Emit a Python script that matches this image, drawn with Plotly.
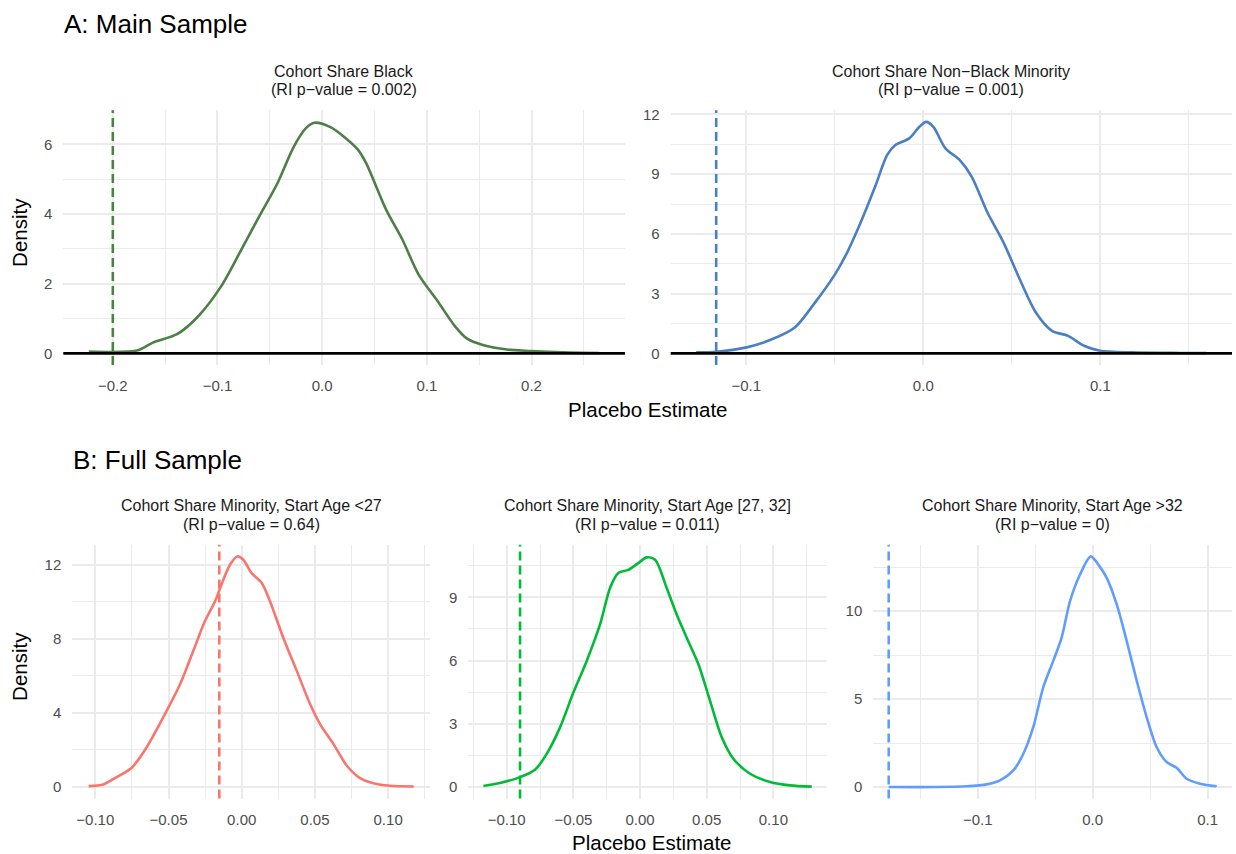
import plotly.graph_objects as go

# ---------------- data ----------------
# Panel A1: Cohort Share Black
a1_x = [-0.2229, -0.177, -0.1617, -0.1387, -0.1195, -0.0964, -0.0772, -0.0618, -0.0426, -0.0272,
        -0.0157, -0.0072, 0.0074, 0.0228, 0.0343, 0.042, 0.0612, 0.0766, 0.092, 0.1112,
        0.1266, 0.1381, 0.1535, 0.1766, 0.1996, 0.2304, 0.2649]
a1_y = [0.05, 0.08, 0.31, 0.55, 1.03, 1.93, 2.98, 3.84, 4.89, 5.93,
        6.46, 6.62, 6.50, 6.17, 5.84, 5.46, 4.12, 3.27, 2.27, 1.46,
        0.79, 0.43, 0.24, 0.11, 0.07, 0.03, 0.01]
a1_obs = -0.2
a1_title = ["Cohort Share Black", "(RI p\u2212value = 0.002)"]

# Panel A2: Cohort Share Non-Black Minority
a2_x = [-0.1283, -0.1168, -0.0998, -0.0862, -0.0726, -0.0612, -0.0499, -0.0431, -0.0363, -0.0272,
        -0.0204, -0.0158, -0.0079, -0.0022, 0.0016, 0.0057, 0.0125, 0.0205, 0.0273, 0.0364,
        0.0454, 0.0545, 0.0636, 0.0727, 0.0818, 0.0908, 0.0999, 0.118, 0.1453, 0.16]
a2_y = [0.05, 0.08, 0.30, 0.68, 1.30, 2.55, 3.97, 5.05, 6.38, 8.38,
        9.97, 10.47, 10.80, 11.38, 11.63, 11.38, 10.30, 9.72, 8.88, 7.05,
        5.55, 3.72, 2.05, 1.13, 0.88, 0.38, 0.13, 0.05, 0.02, 0.01]
a2_obs = -0.117
a2_title = ["Cohort Share Non\u2212Black Minority", "(RI p\u2212value = 0.001)"]

# Panel B1: Start Age <27
b1_x = [-0.1046, -0.0945, -0.0854, -0.0751, -0.0649, -0.0512, -0.0421, -0.0331, -0.0251, -0.0182,
        -0.013, -0.008, -0.003, 0.0011, 0.0068, 0.0137, 0.0193, 0.0284, 0.0376, 0.0467,
        0.0535, 0.0626, 0.0717, 0.0808, 0.0899, 0.1013, 0.1175]
b1_y = [0.05, 0.14, 0.54, 1.04, 2.15, 4.12, 5.55, 7.34, 8.96, 10.03,
        11.1, 12.0, 12.45, 12.27, 11.55, 11.02, 10.03, 8.06, 6.27, 4.48,
        3.40, 2.33, 1.16, 0.48, 0.21, 0.07, 0.03]
b1_obs = -0.0153
b1_title = ["Cohort Share Minority, Start Age <27", "(RI p\u2212value = 0.64)"]

# Panel B2: Start Age [27, 32]
b2_x = [-0.1175, -0.105, -0.09, -0.0788, -0.07, -0.06, -0.05, -0.04, -0.03, -0.0225,
        -0.0163, -0.0088, -0.0013, 0.005, 0.0113, 0.02, 0.0275, 0.035, 0.0438, 0.0525,
        0.0613, 0.07, 0.0825, 0.0975, 0.1125, 0.1288]
b2_y = [0.05, 0.19, 0.47, 0.82, 1.57, 2.83, 4.48, 5.98, 7.71, 9.44,
        10.15, 10.30, 10.62, 10.89, 10.78, 9.44, 8.18, 7.08, 5.82, 4.09,
        2.36, 1.34, 0.63, 0.24, 0.08, 0.02]
b2_obs = -0.090
b2_title = ["Cohort Share Minority, Start Age [27, 32]", "(RI p\u2212value = 0.011)"]

# Panel B3: Start Age >32
b3_x = [-0.1774, -0.1357, -0.1096, -0.0922, -0.0806, -0.069, -0.0603, -0.0517, -0.043, -0.0343,
        -0.027, -0.0197, -0.011, -0.0017, 0.0049, 0.0122, 0.0209, 0.0296, 0.0383, 0.047,
        0.0557, 0.0643, 0.073, 0.0817, 0.0933, 0.1078]
b3_y = [0.0, 0.0, 0.04, 0.15, 0.38, 0.94, 1.89, 3.40, 5.66, 7.17,
        8.49, 10.57, 12.08, 13.11, 12.64, 11.89, 10.38, 8.30, 6.04, 3.96,
        2.26, 1.42, 1.09, 0.47, 0.19, 0.04]
b3_obs = -0.1774
b3_title = ["Cohort Share Minority, Start Age >32", "(RI p\u2212value = 0)"]

# tick values / labels
ta_x1 = [-0.2, -0.1, 0.0, 0.1, 0.2]
ta_x1_lab = ["\u22120.2", "\u22120.1", "0.0", "0.1", "0.2"]
ta_y1 = [0, 2, 4, 6]
ta_x2 = [-0.1, 0.0, 0.1]
ta_x2_lab = ["\u22120.1", "0.0", "0.1"]
ta_y2 = [0, 3, 6, 9, 12]
tb_x12 = [-0.10, -0.05, 0.0, 0.05, 0.10]
tb_x12_lab = ["\u22120.10", "\u22120.05", "0.00", "0.05", "0.10"]
tb_y1 = [0, 4, 8, 12]
tb_y2 = [0, 3, 6, 9]
tb_x3 = [-0.1, 0.0, 0.1]
tb_x3_lab = ["\u22120.1", "0.0", "0.1"]
tb_y3 = [0, 5, 10]

# ---------------- layout ----------------
W, H = 1236, 854
FONT = "Liberation Sans"
GRID = "#EBEBEB"


def px_x(p):
    return p / W


def px_y(p):
    return 1 - p / H


panels = [
    dict(x=a1_x, y=a1_y, obs=a1_obs, color="#4E7F47", xd=(63.3, 625), yd=(106.7, 362.7),
         xr=(-0.2473, 0.2893), yr=(-0.333, 6.98), xt=ta_x1, xl=ta_x1_lab, yt=ta_y1,
         mdx=0.05, mdy=1, title=a1_title, hline=True),
    dict(x=a2_x, y=a2_y, obs=a2_obs, color="#4A7FC1", xd=(670.7, 1232), yd=(106.7, 362.7),
         xr=(-0.1427, 0.1744), yr=(-0.585, 12.215), xt=ta_x2, xl=ta_x2_lab, yt=ta_y2,
         mdx=0.05, mdy=1.5, title=a2_title, hline=True),
    dict(x=b1_x, y=b1_y, obs=b1_obs, color="#F8766D", xd=(72.3, 430), yd=(543.3, 798.3),
         xr=(-0.1157, 0.1286), yr=(-0.623, 13.08), xt=tb_x12, xl=tb_x12_lab, yt=tb_y1,
         mdx=0.025, mdy=2, title=b1_title, hline=False),
    dict(x=b2_x, y=b2_y, obs=b2_obs, color="#00BA38", xd=(468.3, 826.7), yd=(543.3, 798.3),
         xr=(-0.1288, 0.140), yr=(-0.547, 11.49), xt=tb_x12, xl=tb_x12_lab, yt=tb_y2,
         mdx=0.025, mdy=1.5, title=b2_title, hline=False),
    dict(x=b3_x, y=b3_y, obs=b3_obs, color="#619CFF", xd=(873.3, 1231.7), yd=(543.3, 798.3),
         xr=(-0.1908, 0.1209), yr=(-0.656, 13.77), xt=tb_x3, xl=tb_x3_lab, yt=tb_y3,
         mdx=0.05, mdy=2.5, title=b3_title, hline=False),
]

fig = go.Figure()
shapes = []
annotations = []

for i, p in enumerate(panels, start=1):
    sx = "" if i == 1 else str(i)
    xa, ya = "x" + sx, "y" + sx
    fig.add_trace(go.Scatter(x=p["x"], y=p["y"], mode="lines", xaxis=xa, yaxis=ya,
                             line=dict(color=p["color"], width=2.6, shape="spline", smoothing=0.8),
                             hoverinfo="skip", showlegend=False))
    axis_common = dict(showline=False, zeroline=False, ticks="", showgrid=True,
                       gridcolor=GRID, gridwidth=1.9,
                       tickfont=dict(family=FONT, size=15, color="#4D4D4D"))
    fig.layout["xaxis" + sx] = dict(
        axis_common, domain=[px_x(p["xd"][0]), px_x(p["xd"][1])], anchor=ya,
        range=list(p["xr"]), tickmode="array", tickvals=p["xt"], ticktext=p["xl"],
        ticklabelstandoff=10,
        minor=dict(dtick=p["mdx"], tick0=0, showgrid=True, gridcolor=GRID, gridwidth=1.0))
    fig.layout["yaxis" + sx] = dict(
        axis_common, domain=[px_y(p["yd"][1]), px_y(p["yd"][0])], anchor=xa,
        range=list(p["yr"]), tickmode="array", tickvals=p["yt"],
        ticktext=[str(v) for v in p["yt"]], ticklabelstandoff=10,
        minor=dict(dtick=p["mdy"], tick0=0, showgrid=True, gridcolor=GRID, gridwidth=1.0))
    shapes.append(dict(type="line", xref=xa, yref=ya + " domain", x0=p["obs"], x1=p["obs"],
                       y0=0, y1=1, layer="above",
                       line=dict(color=p["color"], width=2.6, dash="9px,5px")))
    if p["hline"]:
        shapes.append(dict(type="line", xref=xa + " domain", yref=ya, x0=0, x1=1, y0=0, y1=0,
                           layer="above", line=dict(color="black", width=2.8)))
    cx = px_x((p["xd"][0] + p["xd"][1]) / 2)
    top = p["yd"][0]
    for k, line in enumerate(p["title"]):
        annotations.append(dict(text=line, x=cx, y=px_y(top - 39 + 18.5 * k), xref="paper",
                                yref="paper", xanchor="center", yanchor="middle", showarrow=False,
                                font=dict(family=FONT, size=16, color="#1A1A1A")))

annotations.append(dict(text="A: Main Sample", x=px_x(62), y=px_y(20), xref="paper", yref="paper",
                        xanchor="left", yanchor="middle", showarrow=False,
                        font=dict(family=FONT, size=26, color="black")))
annotations.append(dict(text="B: Full Sample", x=px_x(71), y=px_y(458), xref="paper", yref="paper",
                        xanchor="left", yanchor="middle", showarrow=False,
                        font=dict(family=FONT, size=26, color="black")))
for (xx, yy) in [((63.3 + 1232) / 2, 407), ((72.3 + 1231.7) / 2, 842)]:
    annotations.append(dict(text="Placebo Estimate", x=px_x(xx), y=px_y(yy), xref="paper",
                            yref="paper", xanchor="center", yanchor="middle", showarrow=False,
                            font=dict(family=FONT, size=20.5, color="black")))
for yy in [230, 666]:
    annotations.append(dict(text="Density", x=px_x(20), y=px_y(yy), xref="paper", yref="paper",
                            xanchor="center", yanchor="middle", textangle=-90, showarrow=False,
                            font=dict(family=FONT, size=20.5, color="black")))

fig.update_layout(width=W, height=H, margin=dict(l=0, r=0, t=0, b=0),
                  paper_bgcolor="white", plot_bgcolor="white",
                  shapes=shapes, annotations=annotations, showlegend=False,
                  font=dict(family=FONT))

fig.write_html("out.html")
